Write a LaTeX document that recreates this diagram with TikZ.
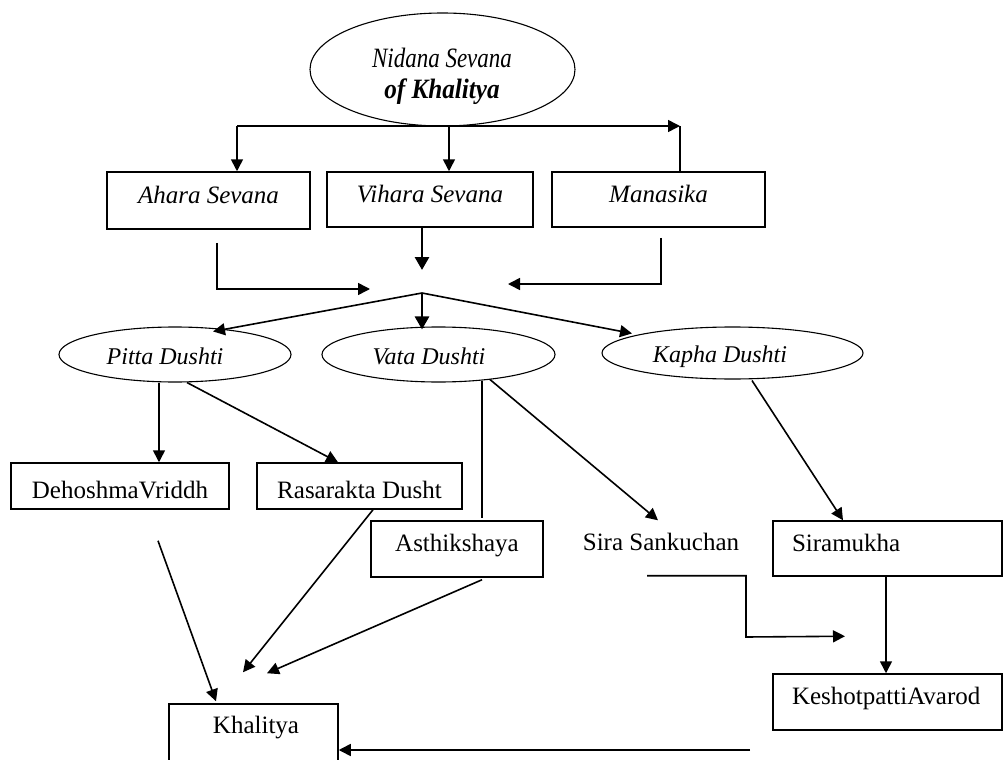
\documentclass[tikz,border=0pt]{standalone}
\usepackage{fontspec}
\setmainfont{Liberation Serif}
\usetikzlibrary{shapes.geometric,arrows.meta}
\tikzset{
 box/.style={draw, line width=1.5pt, rectangle, inner sep=0pt, text height=0.7em, text depth=0.2em, font=\fontsize{25}{30}\selectfont},
 ibox/.style={box, font=\fontsize{25}{30}\selectfont\itshape},
 oval/.style={draw, line width=1.1pt, ellipse, inner sep=0pt},
 ovaltext/.style={inner sep=0pt, text height=0.7em, text depth=0.2em, font=\fontsize{24}{28}\selectfont\itshape},
 plaintext/.style={inner sep=0pt, text height=0.7em, text depth=0.2em, font=\fontsize{25}{30}\selectfont},
 arr/.style={line width=1.6pt, -{Triangle[length=12pt,width=12pt]}},
 tarr/.style={line width=2.8pt, -{Triangle[length=13pt,width=14pt]}},
 conn/.style={line width=1.6pt},
}
\begin{document}
\begin{tikzpicture}[x=1pt,y=-1pt]
\useasboundingbox (0,0) rectangle (1005,760);
\clip (0,0) rectangle (1005,760);
\fill[white] (0,0) rectangle (1005,760);

% nodes
\node[oval, minimum width=265pt, minimum height=113pt] (nidana) at (442.5,69.5) {};
\node[inner sep=0pt, text height=19pt, text depth=0pt, font=\fontsize{28}{28}\selectfont\itshape] (nidanaA) at (442,58.5)
  {\scalebox{0.82}[1]{Nidana Sevana}};
\node[inner sep=0pt, text height=20pt, text depth=6pt, font=\fontsize{28}{28}\selectfont\itshape\bfseries] (nidanaB) at (442,92)
  {\scalebox{0.9}[1]{of Khalitya}};

\node[ibox, minimum width=203pt, minimum height=57pt] (ahara) at (208.5,200.5) {Ahara Sevana};
\node[ibox, minimum width=206pt, minimum height=55pt] (vihara) at (430,199.5) {Vihara Sevana};
\node[ibox, minimum width=213pt, minimum height=55pt] (manas) at (658.5,199.5) {Manasika};

\node[oval, minimum width=232pt, minimum height=55pt] (pitta) at (175,354.5) {};
\node[ovaltext] (pittaText) at (165,362) {Pitta Dushti};
\node[oval, minimum width=233pt, minimum height=55pt] (vata) at (438.5,354.5) {};
\node[ovaltext] (vataText) at (429,362) {Vata Dushti};
\node[oval, minimum width=261pt, minimum height=52pt] (kapha) at (732.5,353) {};
\node[ovaltext] (kaphaText) at (720,360) {Kapha Dushti};

\node[box, text height=29pt, text depth=5pt, minimum width=218pt, minimum height=46pt] (deho) at (120,486) {DehoshmaVriddh};
\node[box, text height=29pt, text depth=5pt, minimum width=205pt, minimum height=46pt] (rasa) at (359.5,486) {Rasarakta Dusht};
\node[box, minimum width=172pt, minimum height=56pt] (asth) at (457,549) {Asthikshaya};
\node[plaintext, minimum height=55pt] (sira) at (661,548) {Sira Sankuchan};
\node[box, text width=191pt, inner xsep=19pt, align=left, minimum height=55pt] (siram) at (887.5,548.5) {Siramukha};
\node[box, text width=191pt, inner xsep=19pt, align=left, minimum height=56pt] (kesh) at (887.5,702) {KeshotpattiAvarod};

\node[box, minimum width=169pt, minimum height=92pt] (khal) at (253.5,750) {};
\node[plaintext] (khaltext) at (256,731) {Khalitya};

% helper coordinates
\coordinate (barL) at (237,126);
\coordinate (barV) at (449,126);
\coordinate (barR) at (680,126);
\coordinate (jn) at (422,293);
\coordinate (skbend) at (746,637);
\coordinate (kkS) at (750,750);

% connectors
\draw[arr] (barL) -- (barR);
\draw[arr] (barL) -- (barL |- ahara.north);
\draw[arr] (barV) -- (barV |- vihara.north);
\draw[conn] (barR |- manas.north) -- (barR);
\draw[tarr] (vihara.south -| jn) -- ([yshift=23pt]jn);
\draw[arr] ([xshift=8.5pt,yshift=-13pt]ahara.south) |- ([xshift=-52pt,yshift=4pt]jn);
\draw[arr] ([xshift=2.5pt,yshift=-10pt]manas.south) |- ([xshift=86pt,yshift=9pt]jn);
\draw[arr] (jn) -- ([xshift=38pt,yshift=-5pt]pitta.north);
\draw[tarr] (jn) -- ([xshift=-16.5pt,yshift=-3pt]vata.north);
\draw[arr] (jn) -- ([xshift=-100.5pt,yshift=-7pt]kapha.north);

\draw[arr] ([xshift=-16pt]pitta.south) -- ([xshift=-16pt]pitta.south |- deho.north);
\draw[arr] ([xshift=12pt]pitta.south) -- ([xshift=-21.5pt]rasa.north);
\draw[conn] ([xshift=43.5pt,yshift=2pt]vata.south) -- ([xshift=43.5pt,yshift=2pt]vata.south |- asth.north);
\draw[arr] ([xshift=51.5pt,yshift=3pt]vata.south) -- ([xshift=-3pt]sira.north);
\draw[arr] ([xshift=19.5pt,yshift=-1pt]kapha.south) -- ([xshift=-44.5pt]siram.north);

\draw[arr] ([xshift=38pt,yshift=-31pt]deho.south) -- ([xshift=-37.5pt,yshift=2pt]khal.north);
\draw[arr] ([xshift=13.5pt]rasa.south) -- ([xshift=-10.5pt,yshift=31pt]khal.north);
\draw[arr] ([xshift=25pt,yshift=-2pt]asth.south) -- ([xshift=13.5pt,yshift=30pt]khal.north);
\draw[arr] ([xshift=-14pt]sira.south) -| (skbend) -- ([xshift=-42.5pt,yshift=37pt]kesh.north);
\draw[arr] ([xshift=-1.5pt]siram.south) -- ([xshift=-1.5pt]siram.south |- kesh.north);
\draw[arr] (kkS) -- (khal.east);
\end{tikzpicture}
\end{document}
